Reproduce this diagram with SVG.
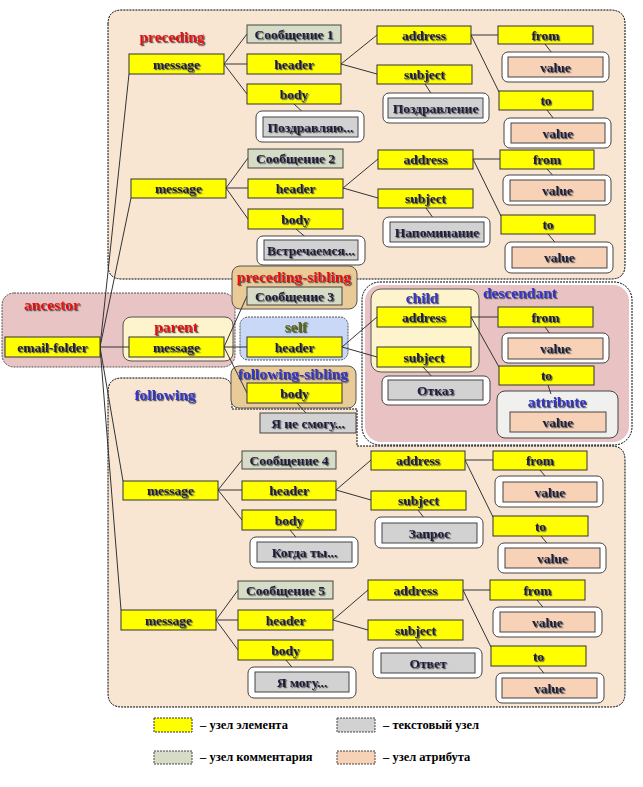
<svg xmlns="http://www.w3.org/2000/svg" width="643" height="787" viewBox="0 0 643 787">
<defs>
<filter id="sh" x="-10%" y="-30%" width="120%" height="160%">
<feDropShadow dx="1.2" dy="1.2" stdDeviation="0.5" flood-color="#555"/>
</filter>
</defs>
<style>
.el{fill:#ffff00;stroke:#333;stroke-width:1}
.cm{fill:#d6dcc6;stroke:#444;stroke-width:1}
.tx{fill:#d2d2d2;stroke:#444;stroke-width:1}
.at{fill:#f8d2b6;stroke:#444;stroke-width:1}
.fr{fill:#fff;stroke:#444;stroke-width:1}
.reg{fill:#f8e6d3;stroke:#000;stroke-width:1;stroke-dasharray:2 1}
.t{font-family:"Liberation Serif","DejaVu Serif",serif;font-weight:bold;font-size:13.5px;fill:#1c1c3c;text-anchor:middle;filter:url(#sh)}
.lb{font-family:"Liberation Serif","DejaVu Serif",serif;font-weight:bold;font-size:15.5px;text-anchor:middle;filter:url(#sh)}
.red{fill:#e81010}
.blue{fill:#3434c4}
.olive{fill:#5a6c10}
.lg{font-family:"Liberation Serif","DejaVu Serif",serif;font-weight:bold;font-size:12.5px;fill:#000}
#connectors line{stroke:#333;stroke-width:1}
</style>
<rect width="643" height="787" fill="#fff"/>
<g id="regions">
<path id="preceding-region" class="reg" d="M108,24 Q108,10 122,10 H610 Q625,10 625,24 V265 Q625,279 611,279 H122 Q108,279 108,265 Z"/>
<path id="following-region" class="reg" d="M108,392 Q108,378 122,378 H220 Q232,378 232,390 V409 H357 V446 H611 Q625,446 625,460 V693 Q625,707 611,707 H122 Q108,707 108,693 Z"/>
<rect id="descendant-region" x="362" y="282" width="270" height="163" rx="18" fill="#fff" stroke="#000" stroke-dasharray="2 1"/>
<rect x="365" y="285" width="264" height="157" rx="16" fill="#e9c3c3"/>
<rect id="ancestor-region" x="2" y="293" width="233" height="74" rx="12" fill="#e9c4c4" stroke="#555" stroke-dasharray="2 1"/>
<rect id="parent-frame" x="123" y="317" width="110" height="44" rx="8" fill="#fdf3cc" stroke="#555"/>
<rect id="ps-frame" x="232" y="266" width="125" height="43" rx="8" fill="#e9cb98" stroke="#555"/>
<rect id="self-frame" x="240" y="317" width="108" height="43" rx="8" fill="#c8d8f6" stroke="#555" stroke-dasharray="2 1"/>
<rect id="fs-frame" x="231" y="366" width="125" height="42" rx="8" fill="#e9cb98" stroke="#555"/>
<rect id="child-frame" x="371" y="289" width="108" height="83" rx="10" fill="#fdf3cc" stroke="#555"/>
<rect id="attribute-frame" x="497" y="391" width="121" height="47" rx="8" fill="#f0f0ee" stroke="#444"/>
<text class="lb red" x="172" y="42">preceding</text>
<text class="lb red" x="52" y="310">ancestor</text>
<text class="lb red" x="176" y="332">parent</text>
<text class="lb red" x="294" y="282">preceding-sibling</text>
<text class="lb olive" x="296" y="332">self</text>
<text class="lb blue" x="293" y="379">following-sibling</text>
<text class="lb blue" x="165" y="400">following</text>
<text class="lb blue" x="520" y="298">descendant</text>
<text class="lb blue" x="422" y="303">child</text>
<text class="lb blue" x="557" y="407">attribute</text>
</g>
<g id="connectors">
<line x1="100" y1="347" x2="129" y2="74"/>
<line x1="100" y1="347" x2="131" y2="198"/>
<line x1="100" y1="347" x2="129" y2="347"/>
<line x1="100" y1="347" x2="123" y2="481"/>
<line x1="100" y1="347" x2="121" y2="610"/>
<line x1="224" y1="64" x2="247" y2="34"/>
<line x1="224" y1="64" x2="247" y2="64"/>
<line x1="224" y1="64" x2="247" y2="94"/>
<line x1="341" y1="64" x2="377" y2="35"/>
<line x1="341" y1="64" x2="377" y2="74"/>
<line x1="471" y1="35" x2="498" y2="35"/>
<line x1="471" y1="35" x2="499" y2="92"/>
<line x1="294" y1="104" x2="308" y2="117"/>
<line x1="425" y1="84" x2="434" y2="98"/>
<line x1="545" y1="44" x2="555" y2="57"/>
<line x1="547" y1="110" x2="557" y2="123"/>
<line x1="226" y1="188" x2="248" y2="158"/>
<line x1="226" y1="188" x2="248" y2="188"/>
<line x1="226" y1="188" x2="248" y2="219"/>
<line x1="343" y1="188" x2="378" y2="159"/>
<line x1="343" y1="188" x2="378" y2="198"/>
<line x1="473" y1="159" x2="500" y2="159"/>
<line x1="473" y1="159" x2="501" y2="216"/>
<line x1="296" y1="229" x2="309" y2="240"/>
<line x1="426" y1="208" x2="436" y2="222"/>
<line x1="547" y1="169" x2="557" y2="180"/>
<line x1="548" y1="234" x2="559" y2="247"/>
<line x1="224" y1="347" x2="247" y2="296"/>
<line x1="224" y1="347" x2="247" y2="347"/>
<line x1="224" y1="347" x2="247" y2="393"/>
<line x1="342" y1="347" x2="377" y2="317"/>
<line x1="342" y1="347" x2="377" y2="357"/>
<line x1="471" y1="317" x2="498" y2="317"/>
<line x1="471" y1="317" x2="499" y2="367"/>
<line x1="297" y1="403" x2="306" y2="413"/>
<line x1="423" y1="367" x2="435" y2="380"/>
<line x1="545" y1="327" x2="553" y2="338"/>
<line x1="548" y1="385" x2="551" y2="394"/>
<line x1="218" y1="490" x2="242" y2="460"/>
<line x1="218" y1="490" x2="242" y2="490"/>
<line x1="218" y1="490" x2="242" y2="520"/>
<line x1="336" y1="490" x2="371" y2="460"/>
<line x1="336" y1="490" x2="371" y2="500"/>
<line x1="465" y1="460" x2="493" y2="460"/>
<line x1="465" y1="460" x2="493" y2="517"/>
<line x1="290" y1="530" x2="300" y2="542"/>
<line x1="418" y1="510" x2="428" y2="523"/>
<line x1="540" y1="470" x2="550" y2="482"/>
<line x1="541" y1="536" x2="551" y2="548"/>
<line x1="216" y1="620" x2="238" y2="590"/>
<line x1="216" y1="620" x2="238" y2="620"/>
<line x1="216" y1="620" x2="238" y2="650"/>
<line x1="333" y1="620" x2="368" y2="590"/>
<line x1="333" y1="620" x2="368" y2="630"/>
<line x1="463" y1="590" x2="490" y2="590"/>
<line x1="463" y1="590" x2="491" y2="647"/>
<line x1="286" y1="660" x2="296" y2="672"/>
<line x1="416" y1="640" x2="426" y2="653"/>
<line x1="537" y1="600" x2="547" y2="612"/>
<line x1="538" y1="666" x2="548" y2="678"/>
</g>
<!-- block 1 -->
<g id="p1-msg"><rect class="el" x="129" y="54" width="95" height="20"/><text class="t" x="176.5" y="68.5">message</text></g>
<g id="p1-comment"><rect class="cm" x="247" y="25" width="94" height="18"/><text class="t" x="294" y="38.5">Сообщение 1</text></g>
<g id="p1-header"><rect class="el" x="247" y="54" width="94" height="20"/><text class="t" x="294" y="68.5">header</text></g>
<g id="p1-body"><rect class="el" x="247" y="84" width="94" height="20"/><text class="t" x="294" y="98.5">body</text></g>
<g id="p1-bodytext"><rect class="fr" x="256" y="111" width="108" height="31" rx="6"/><rect class="tx" x="263" y="117" width="95" height="20"/><text class="t" x="310.5" y="131.5">Поздравляю...</text></g>
<g id="p1-address"><rect class="el" x="377" y="26" width="94" height="18"/><text class="t" x="424" y="39.5">address</text></g>
<g id="p1-subject"><rect class="el" x="377" y="65" width="95" height="19"/><text class="t" x="424.5" y="79">subject</text></g>
<g id="p1-subjtext"><rect class="fr" x="383" y="93" width="106" height="30" rx="6"/><rect class="tx" x="388" y="98" width="95" height="20"/><text class="t" x="435.5" y="112.5">Поздравление</text></g>
<g id="p1-from"><rect class="el" x="498" y="26" width="95" height="18"/><text class="t" x="545.5" y="39.5">from</text></g>
<g id="p1-fromval"><rect class="fr" x="502" y="52" width="107" height="30" rx="6"/><rect class="at" x="508" y="57" width="95" height="20"/><text class="t" x="555.5" y="71.5">value</text></g>
<g id="p1-to"><rect class="el" x="499" y="91" width="94" height="19"/><text class="t" x="546" y="105">to</text></g>
<g id="p1-toval"><rect class="fr" x="504" y="118" width="107" height="30" rx="6"/><rect class="at" x="511" y="123" width="94" height="20"/><text class="t" x="558" y="137.5">value</text></g>
<!-- block 2 -->
<g id="p2-msg"><rect class="el" x="131" y="179" width="95" height="19"/><text class="t" x="178.5" y="193">message</text></g>
<g id="p2-comment"><rect class="cm" x="248" y="149" width="95" height="19"/><text class="t" x="295.5" y="163">Сообщение 2</text></g>
<g id="p2-header"><rect class="el" x="248" y="179" width="95" height="19"/><text class="t" x="295.5" y="193">header</text></g>
<g id="p2-body"><rect class="el" x="248" y="209" width="95" height="20"/><text class="t" x="295.5" y="223.5">body</text></g>
<g id="p2-bodytext"><rect class="fr" x="257" y="236" width="108" height="29" rx="6"/><rect class="tx" x="264" y="240" width="94" height="20"/><text class="t" x="311" y="254.5">Встречаемся...</text></g>
<g id="p2-address"><rect class="el" x="378" y="150" width="95" height="19"/><text class="t" x="425.5" y="164">address</text></g>
<g id="p2-subject"><rect class="el" x="378" y="189" width="95" height="19"/><text class="t" x="425.5" y="203">subject</text></g>
<g id="p2-subjtext"><rect class="fr" x="383" y="217" width="107" height="30" rx="6"/><rect class="tx" x="390" y="222" width="94" height="20"/><text class="t" x="437" y="236.5">Напоминание</text></g>
<g id="p2-from"><rect class="el" x="500" y="150" width="94" height="19"/><text class="t" x="547" y="164">from</text></g>
<g id="p2-fromval"><rect class="fr" x="503" y="175" width="108" height="30" rx="6"/><rect class="at" x="510" y="180" width="95" height="21"/><text class="t" x="557.5" y="195">value</text></g>
<g id="p2-to"><rect class="el" x="501" y="215" width="94" height="19"/><text class="t" x="548" y="229">to</text></g>
<g id="p2-toval"><rect class="fr" x="505" y="242" width="108" height="31" rx="6"/><rect class="at" x="512" y="247" width="95" height="21"/><text class="t" x="559.5" y="262">value</text></g>
<!-- center -->
<g id="email-folder"><rect class="el" x="5" y="337" width="95" height="20"/><text class="t" x="52.5" y="351.5">email-folder</text></g>
<g id="parent-msg"><rect class="el" x="129" y="337" width="95" height="20"/><text class="t" x="176.5" y="351.5">message</text></g>
<g id="ps-comment"><rect class="cm" x="247" y="287" width="95" height="18"/><text class="t" x="294.5" y="300.5">Сообщение 3</text></g>
<g id="self-header"><rect class="el" x="247" y="337" width="95" height="20"/><text class="t" x="294.5" y="351.5">header</text></g>
<g id="fs-body"><rect class="el" x="247" y="383" width="95" height="20"/><text class="t" x="294.5" y="397.5">body</text></g>
<g id="fs-bodytext"><rect class="tx" x="260" y="413" width="96" height="20"/><text class="t" x="308" y="427.5">Я не смогу...</text></g>
<g id="d-address"><rect class="el" x="377" y="307" width="94" height="20"/><text class="t" x="424" y="321.5">address</text></g>
<g id="d-subject"><rect class="el" x="377" y="347" width="94" height="20"/><text class="t" x="424" y="361.5">subject</text></g>
<g id="d-subjtext"><rect class="fr" x="382" y="376" width="108" height="29" rx="6"/><rect class="tx" x="388" y="380" width="95" height="20"/><text class="t" x="435.5" y="394.5">Отказ</text></g>
<g id="d-from"><rect class="el" x="498" y="307" width="95" height="20"/><text class="t" x="545.5" y="321.5">from</text></g>
<g id="d-fromval"><rect class="fr" x="502" y="333" width="107" height="30" rx="6"/><rect class="at" x="508" y="338" width="95" height="21"/><text class="t" x="555.5" y="353">value</text></g>
<g id="d-to"><rect class="el" x="499" y="366" width="95" height="19"/><text class="t" x="546.5" y="380">to</text></g>
<g id="d-toval"><rect class="at" x="510" y="412" width="96" height="20"/><text class="t" x="558" y="426.5">value</text></g>
<!-- block 4 -->
<g id="f1-msg"><rect class="el" x="123" y="481" width="95" height="19"/><text class="t" x="170.5" y="495">message</text></g>
<g id="f1-comment"><rect class="cm" x="242" y="451" width="94" height="18"/><text class="t" x="289" y="464.5">Сообщение 4</text></g>
<g id="f1-header"><rect class="el" x="242" y="481" width="94" height="19"/><text class="t" x="289" y="495">header</text></g>
<g id="f1-body"><rect class="el" x="242" y="510" width="94" height="20"/><text class="t" x="289" y="524.5">body</text></g>
<g id="f1-bodytext"><rect class="fr" x="250" y="537" width="108" height="31" rx="6"/><rect class="tx" x="257" y="542" width="95" height="20"/><text class="t" x="304.5" y="556.5">Когда ты...</text></g>
<g id="f1-address"><rect class="el" x="371" y="451" width="94" height="19"/><text class="t" x="418" y="465">address</text></g>
<g id="f1-subject"><rect class="el" x="371" y="491" width="95" height="19"/><text class="t" x="418.5" y="505">subject</text></g>
<g id="f1-subjtext"><rect class="fr" x="375" y="517" width="108" height="31" rx="6"/><rect class="tx" x="382" y="523" width="95" height="20"/><text class="t" x="429.5" y="537.5">Запрос</text></g>
<g id="f1-from"><rect class="el" x="493" y="451" width="94" height="19"/><text class="t" x="540" y="465">from</text></g>
<g id="f1-fromval"><rect class="fr" x="495" y="476" width="108" height="31" rx="6"/><rect class="at" x="503" y="482" width="94" height="20"/><text class="t" x="550" y="496.5">value</text></g>
<g id="f1-to"><rect class="el" x="493" y="516" width="95" height="20"/><text class="t" x="540.5" y="530.5">to</text></g>
<g id="f1-toval"><rect class="fr" x="498" y="543" width="108" height="30" rx="6"/><rect class="at" x="505" y="548" width="95" height="20"/><text class="t" x="552.5" y="562.5">value</text></g>
<!-- block 5 -->
<g id="f2-msg"><rect class="el" x="121" y="610" width="95" height="20"/><text class="t" x="168.5" y="624.5">message</text></g>
<g id="f2-comment"><rect class="cm" x="238" y="581" width="95" height="18"/><text class="t" x="285.5" y="594.5">Сообщение 5</text></g>
<g id="f2-header"><rect class="el" x="238" y="610" width="95" height="20"/><text class="t" x="285.5" y="624.5">header</text></g>
<g id="f2-body"><rect class="el" x="238" y="640" width="95" height="20"/><text class="t" x="285.5" y="654.5">body</text></g>
<g id="f2-bodytext"><rect class="fr" x="248" y="667" width="108" height="31" rx="6"/><rect class="tx" x="255" y="672" width="94" height="20"/><text class="t" x="302" y="686.5">Я могу...</text></g>
<g id="f2-address"><rect class="el" x="368" y="580" width="95" height="20"/><text class="t" x="415.5" y="594.5">address</text></g>
<g id="f2-subject"><rect class="el" x="368" y="620" width="95" height="20"/><text class="t" x="415.5" y="634.5">subject</text></g>
<g id="f2-subjtext"><rect class="fr" x="373" y="648" width="109" height="30" rx="6"/><rect class="tx" x="381" y="653" width="94" height="20"/><text class="t" x="428" y="667.5">Ответ</text></g>
<g id="f2-from"><rect class="el" x="490" y="580" width="95" height="20"/><text class="t" x="537.5" y="594.5">from</text></g>
<g id="f2-fromval"><rect class="fr" x="493" y="607" width="109" height="30" rx="6"/><rect class="at" x="500" y="612" width="95" height="20"/><text class="t" x="547.5" y="626.5">value</text></g>
<g id="f2-to"><rect class="el" x="491" y="646" width="95" height="20"/><text class="t" x="538.5" y="660.5">to</text></g>
<g id="f2-toval"><rect class="fr" x="496" y="673" width="108" height="30" rx="6"/><rect class="at" x="502" y="678" width="95" height="20"/><text class="t" x="549.5" y="692.5">value</text></g>
<!-- legend -->
<g id="legend">
<rect class="el" x="154" y="718" width="38" height="14" stroke-dasharray="2 1"/>
<text class="lg" x="200" y="729">– узел элемента</text>
<rect class="tx" x="337" y="718" width="38" height="14" stroke-dasharray="2 1"/>
<text class="lg" x="383" y="729">– текстовый узел</text>
<rect class="cm" x="154" y="751" width="38" height="13" stroke-dasharray="2 1"/>
<text class="lg" x="200" y="761">– узел комментария</text>
<rect class="at" x="337" y="751" width="38" height="13" stroke-dasharray="2 1"/>
<text class="lg" x="383" y="761">– узел атрибута</text>
</g>
</svg>
